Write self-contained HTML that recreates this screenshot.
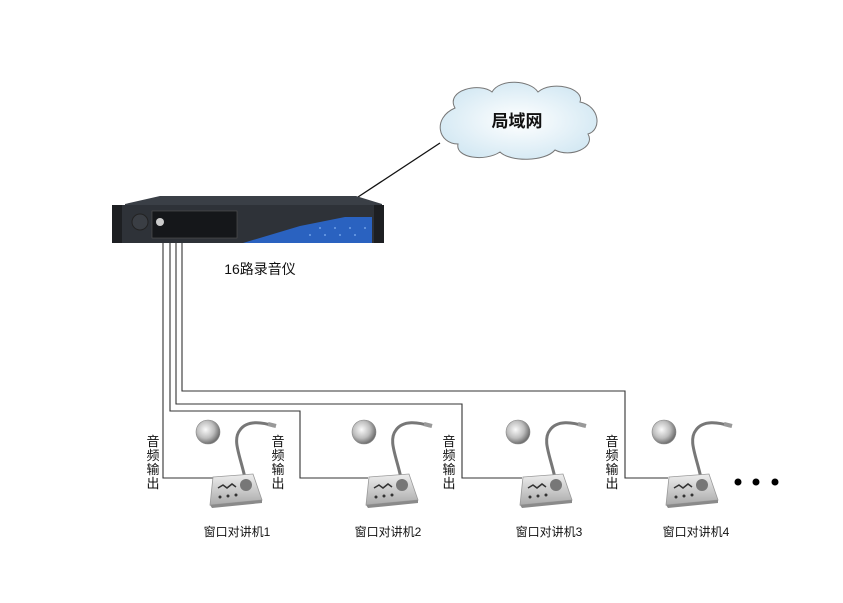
<!DOCTYPE html>
<html><head><meta charset="utf-8"><style>
body{margin:0;background:#fff;}
svg{display:block;}
text{font-family:"Liberation Sans","Noto Sans CJK SC",sans-serif;fill:#111;}
</style></head><body>
<svg width="843" height="603" viewBox="0 0 843 603" xmlns="http://www.w3.org/2000/svg">
<defs>
<radialGradient id="ball" cx="40%" cy="40%" r="60%"><stop offset="0" stop-color="#fafafa"/><stop offset="0.6" stop-color="#bdbdbd"/><stop offset="1" stop-color="#6f6f6f"/></radialGradient>
<linearGradient id="base" x1="0" y1="0" x2="0" y2="1"><stop offset="0" stop-color="#eee"/><stop offset="1" stop-color="#aaa"/></linearGradient>
<radialGradient id="cloud" cx="50%" cy="50%" r="60%"><stop offset="0" stop-color="#fff"/><stop offset="1" stop-color="#cfe6f2"/></radialGradient>
<g id="dev">
  <circle cx="208" cy="432" r="12" fill="url(#ball)" stroke="#888" stroke-width="0.6"/>
  <path d="M245 478 C240 455,232 440,240 430 C247 420,262 422,274 426" stroke="#777" stroke-width="3" fill="none"/>
  <path d="M268 424 L276 426" stroke="#999" stroke-width="4"/>
  <polygon points="213,477 253,474 262,500 210,505" fill="url(#base)" stroke="#999" stroke-width="0.8"/>
  <polygon points="210,505 262,500 262,503 212,508" fill="#8a8a8a"/>
  <path d="M218 488 l5 -3 l4 3 l5 -4 l4 3" stroke="#333" stroke-width="1.5" fill="none"/>
  <circle cx="246" cy="485" r="6" fill="#777"/>
  <circle cx="220" cy="497" r="1.5" fill="#333"/><circle cx="228" cy="496" r="1.5" fill="#333"/><circle cx="236" cy="495" r="1.5" fill="#333"/>
</g>
</defs>

<!-- cloud -->
<g stroke="#777" stroke-width="1" fill="url(#cloud)">
<path d="M455 108 C445 90,480 82,492 92 C500 78,530 80,538 92 C552 80,585 88,580 102 C600 106,602 130,588 134 C596 148,570 158,555 150 C545 162,510 162,500 152 C485 162,455 158,458 144 C438 144,432 118,455 108 Z"/>
</g>
<text x="517" y="127" font-size="17" font-weight="bold" text-anchor="middle">局域网</text>
<line x1="358" y1="197" x2="440" y2="143" stroke="#111" stroke-width="1.3"/>

<!-- recorder -->
<polygon points="125,204 160,196 356,196 382,204 382,240 125,240" fill="#3a3f46"/>
<rect x="112" y="205" width="272" height="38" fill="#2e3238"/>
<rect x="112" y="205" width="10" height="38" fill="#1d1f22"/>
<rect x="374" y="205" width="10" height="38" fill="#1d1f22"/>
<circle cx="140" cy="222" r="8" fill="#3a3e44" stroke="#222"/>
<rect x="152" y="211" width="85" height="27" fill="#15171a" stroke="#555" stroke-width="0.6"/>
<circle cx="160" cy="222" r="4" fill="#ccc"/>
<polygon points="243,243 300,226 345,217 372,217 372,243" fill="#2a62c0"/>
<g fill="#6fa0e8"><circle cx="320" cy="228" r="1"/><circle cx="335" cy="228" r="1"/><circle cx="350" cy="228" r="1"/><circle cx="365" cy="228" r="1"/><circle cx="310" cy="235" r="1"/><circle cx="325" cy="235" r="1"/><circle cx="340" cy="235" r="1"/><circle cx="355" cy="235" r="1"/></g>
<text x="260" y="274" font-size="14" text-anchor="middle">16路录音仪</text>

<!-- wires -->
<g stroke="#333" stroke-width="1.1" fill="none">
<polyline points="163,243 163,478 213,478"/>
<polyline points="170,243 170,411 300,411 300,478 368,478"/>
<polyline points="176,243 176,404 462,404 462,478 522,478"/>
<polyline points="182,243 182,391 625,391 625,478 668,478"/>
</g>

<use href="#dev"/>
<use href="#dev" transform="translate(156,0)"/>
<use href="#dev" transform="translate(310,0)"/>
<use href="#dev" transform="translate(456,0)"/>

<g font-size="13" text-anchor="middle">
<text x="153" y="446">音</text><text x="153" y="460">频</text><text x="153" y="474">输</text><text x="153" y="488">出</text>
<text x="278" y="446">音</text><text x="278" y="460">频</text><text x="278" y="474">输</text><text x="278" y="488">出</text>
<text x="449" y="446">音</text><text x="449" y="460">频</text><text x="449" y="474">输</text><text x="449" y="488">出</text>
<text x="612" y="446">音</text><text x="612" y="460">频</text><text x="612" y="474">输</text><text x="612" y="488">出</text>
</g>

<g fill="#000"><circle cx="738" cy="482" r="3.5"/><circle cx="756" cy="482" r="3.5"/><circle cx="775" cy="482" r="3.5"/></g>

<g font-size="12" text-anchor="middle">
<text x="237" y="536">窗口对讲机1</text>
<text x="388" y="536">窗口对讲机2</text>
<text x="549" y="536">窗口对讲机3</text>
<text x="696" y="536">窗口对讲机4</text>
</g>
</svg>
</body></html>
